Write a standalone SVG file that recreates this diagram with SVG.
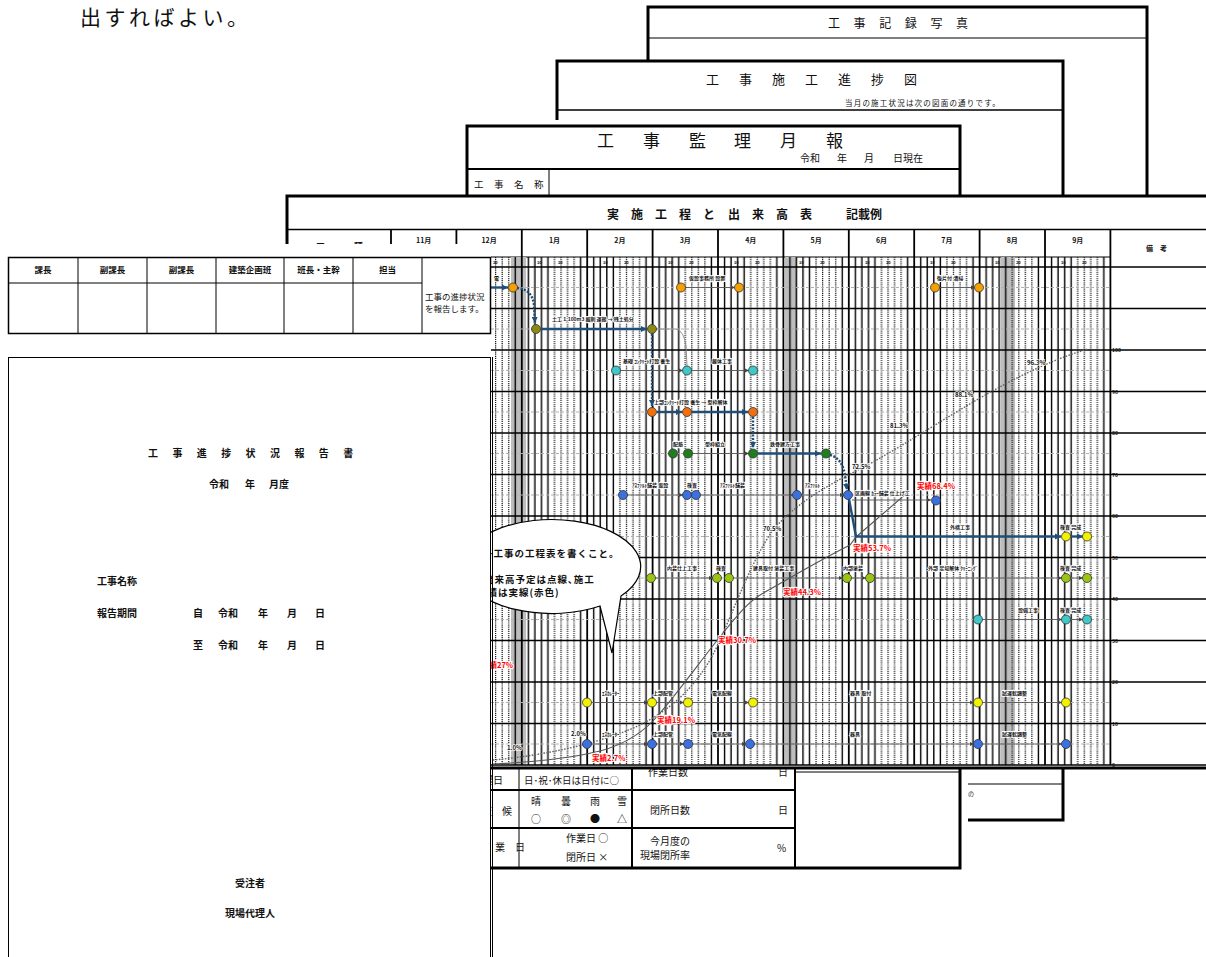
<svg xmlns="http://www.w3.org/2000/svg" width="1206" height="957" viewBox="0 0 1206 957">
<style>
.jp{font-family:"Noto Sans CJK JP","Noto Sans",sans-serif;fill:#111}
.b{font-weight:bold}
.page{fill:#fff;stroke:#000;stroke-width:3}
.ln{stroke:#000;stroke-width:1;fill:none}
.ln2{stroke:#000;stroke-width:2;fill:none}
.mb{stroke:#000;stroke-width:1.8}
.rw{stroke:#000;stroke-width:1.5}
.cen{stroke:#b0b0b0;stroke-width:1.2;stroke-dasharray:3 2;fill:none}
.act{stroke:#555;stroke-width:0.9;fill:none;marker-end:url(#ah)}
.crit{stroke:#1f4e79;stroke-width:2.4;fill:none;marker-end:url(#ahn)}
.critd{stroke:#1f4e79;stroke-width:2.4;fill:none;stroke-dasharray:2 1.5;marker-end:url(#ahn)}
.gry{stroke:#888;stroke-width:0.9;fill:none}
.plan{stroke:#666;stroke-width:1.4;fill:none;stroke-dasharray:1.6 1.4}
.actual{stroke:#555;stroke-width:1.1;fill:none}
.band{fill:#bdbdbd}
.nd{stroke:#333;stroke-width:0.8}
.lb{font-size:5px;font-weight:bold;stroke:#fff;stroke-width:1.6;paint-order:stroke}
.rl{font-size:7.5px;font-weight:bold;fill:#ff0000;stroke:#fff;stroke-width:2;paint-order:stroke}
.pl{font-size:6px;font-weight:bold;stroke:#fff;stroke-width:1.6;paint-order:stroke}
.mo{font-size:7px;font-weight:bold;text-anchor:middle}
.dy{font-size:4px;font-weight:bold}
.ax{font-size:5px;font-weight:bold}
</style>
<defs>
<marker id="ah" viewBox="0 0 6 6" refX="6" refY="3" markerWidth="4.5" markerHeight="4.5" orient="auto"><path d="M0,0 L6,3 L0,6 z" fill="#444"/></marker>
<marker id="ahn" viewBox="0 0 6 6" refX="6" refY="3" markerWidth="2.6" markerHeight="2.6" orient="auto"><path d="M0,0 L6,3 L0,6 z" fill="#1f4e79"/></marker>
<pattern id="mg" patternUnits="userSpaceOnUse" x="391" y="257" width="65.4" height="508">
<path d="M6.54 0V508M13.08 0V508M19.62 0V508M26.16 0V508M58.86 0V508" stroke="#000" stroke-width="1.4"/>
<path d="M32.7 0V508M39.24 0V508M45.78 0V508M52.32 0V508" stroke="#111" stroke-width="1.2" stroke-dasharray="1.2 0.9"/>
</pattern>
</defs>
<rect width="1206" height="957" fill="#fff"/>

<text class="jp" x="80" y="24.5" font-size="21" letter-spacing="3.5" fill="#222">出すればよい。</text>

<!-- 工事記録写真 -->
<g id="doc-kiroku">
<rect class="page" x="648" y="7" width="499" height="700"/>
<line class="ln" x1="648" y1="38" x2="1147" y2="38"/>
<text class="jp" font-size="12" y="28" x="828 853.6 879.2 904.8 930.4 956">工事記録写真</text>
</g>

<!-- 工事施工進捗図 -->
<g id="doc-shinchoku">
<rect class="page" x="557" y="61" width="506" height="759"/>
<text class="jp" font-size="13" y="84" x="706 739 772 805 838 871 904">工事施工進捗図</text>
<text class="jp" font-size="7.5" x="845" y="106" letter-spacing="1.2">当月の施工状況は次の図面の通りです。</text>
<line class="rw" x1="557" y1="110" x2="1063" y2="110"/>
<line class="ln" x1="557" y1="784" x2="1063" y2="784"/>
<text class="jp" font-size="6" x="968" y="796" fill="#555">の</text>
</g>

<!-- 工事監理月報 -->
<g id="doc-geppo">
<rect x="460" y="120" width="508" height="752" fill="#fff"/>
<rect class="page" x="467" y="126" width="493" height="742"/>
<text class="jp" font-size="17" y="147" x="597 643 689 734 780 826">工事監理月報</text>
<text class="jp" font-size="10" y="162"><tspan x="800">令和</tspan><tspan x="837">年</tspan><tspan x="864">月</tspan><tspan x="893">日現在</tspan></text>
<line class="ln2" x1="467" y1="169" x2="960" y2="169"/>
<text class="jp" font-size="9.5" y="188" x="474 494 514 534">工事名称</text>
<line class="ln" x1="549" y1="169" x2="549" y2="196"/>
<line class="ln2" x1="467" y1="790" x2="795" y2="790"/>
<line class="ln2" x1="467" y1="828" x2="795" y2="828"/>
<line class="ln" x1="519" y1="768" x2="519" y2="867"/>
<line class="ln2" x1="632" y1="768" x2="632" y2="867"/>
<line class="ln2" x1="795" y1="768" x2="795" y2="867"/>
<line class="ln" x1="795" y1="772" x2="960" y2="772"/>
<text class="jp" font-size="10" x="483" y="784">曜日</text>
<text class="jp" font-size="10" x="482" y="815">天　候</text>
<text class="jp" font-size="10" x="475" y="851">作　業　日</text>
<text class="jp" font-size="9.5" x="524" y="784">日･祝･休日は日付に○</text>
<text class="jp" font-size="10" y="805" text-anchor="middle"><tspan x="536">晴</tspan><tspan x="566">曇</tspan><tspan x="595">雨</tspan><tspan x="622">雪</tspan></text>
<text class="jp" font-size="10" y="823" text-anchor="middle"><tspan x="536">○</tspan><tspan x="566">◎</tspan><tspan x="595">●</tspan><tspan x="622">△</tspan></text>
<text class="jp" font-size="10" x="566" y="842">作業日 ○</text>
<text class="jp" font-size="10" x="566" y="861">閉所日 ×</text>
<text class="jp" font-size="10" x="648" y="776">作業日数</text>
<text class="jp" font-size="10" x="778" y="776">日</text>
<text class="jp" font-size="10" x="650" y="814">閉所日数</text>
<text class="jp" font-size="10" x="778" y="814">日</text>
<text class="jp" font-size="10" x="650" y="845">今月度の</text>
<text class="jp" font-size="10" x="640" y="859">現場閉所率</text>
<text class="jp" font-size="10" x="777" y="852">%</text>
</g>

<!-- 実施工程と出来高表 -->
<g id="doc-koutei">
<rect class="page" x="287" y="196" width="960" height="572"/>
<text class="jp b" font-size="12" y="219" x="607 631 655 679 703 728 752 776 800">実施工程と出来高表</text>
<text class="jp b" font-size="12" x="846" y="219">記載例</text>
<line class="rw" x1="287" y1="229.5" x2="1206" y2="229.5"/>
<line class="ln" x1="391" y1="257" x2="1110" y2="257"/>
<text class="jp b" font-size="9" x="316" y="250">工</text>
<text class="jp b" font-size="9" x="354" y="250">種</text>
<text class="jp mo" y="243"><tspan x="423.7">11月</tspan><tspan x="489.1">12月</tspan><tspan x="554.5">1月</tspan><tspan x="619.9">2月</tspan><tspan x="685.3">3月</tspan><tspan x="750.7">4月</tspan><tspan x="816.1">5月</tspan><tspan x="881.5">6月</tspan><tspan x="946.9">7月</tspan><tspan x="1012.3">8月</tspan><tspan x="1077.7">9月</tspan></text>
<text class="jp b" font-size="7" x="1146" y="251">備　考</text>
<rect class="band" x="511" y="257" width="15" height="508"/>
<rect class="band" x="785" y="257" width="12" height="508"/>
<rect class="band" x="1001" y="257" width="14" height="508"/>
<rect x="391" y="257" width="719.4" height="508" fill="url(#mg)"/>
<path class="mb" d="M391 229V765M456.4 229V765M521.8 229V765M587.2 229V765M652.6 229V765M718 229V765M783.4 229V765M848.8 229V765M914.2 229V765M979.6 229V765M1045 229V765M1110.4 229V765"/>
<text class="jp dy" y="264"><tspan x="472">10</tspan><tspan x="493">20</tspan><tspan x="537">10</tspan><tspan x="558">20</tspan><tspan x="603">10</tspan><tspan x="624">20</tspan><tspan x="668">10</tspan><tspan x="689">20</tspan><tspan x="734">10</tspan><tspan x="755">20</tspan><tspan x="799">10</tspan><tspan x="820">20</tspan><tspan x="865">10</tspan><tspan x="886">20</tspan><tspan x="930">10</tspan><tspan x="951">20</tspan><tspan x="995">10</tspan><tspan x="1016">20</tspan><tspan x="1061">10</tspan><tspan x="1082">20</tspan></text>
<path class="rw" d="M287 267H1206M287 308.5H1206M287 350H1206M287 391.5H1206M287 433H1206M287 474.5H1206M287 516H1206M287 557.5H1206M287 599H1206M287 640.5H1206M287 682H1206M287 723.5H1206M287 765H1206"/>
<text class="jp ax" x="1112"><tspan y="352">100</tspan><tspan y="393.5" x="1112">90</tspan><tspan y="435" x="1112">80</tspan><tspan y="476.5" x="1112">70</tspan><tspan y="518" x="1112">60</tspan><tspan y="559.5" x="1112">50</tspan><tspan y="601" x="1112">40</tspan><tspan y="642.5" x="1112">30</tspan><tspan y="684" x="1112">20</tspan><tspan y="725.5" x="1112">10</tspan><tspan y="767" x="1112">0</tspan></text>
</g>

<!-- 行の中心線 -->
<g id="center-lines">
<path class="cen" d="M491 287.5H1110M491 329H1110M491 370.5H1110M491 412H1110M491 453.5H1110M491 495H1110M491 536.5H1110M491 578H1110M491 619.5H1110M491 702.5H1110M491 744H1110"/>
</g>

<!-- 出来高曲線 -->
<g id="s-curves">
<path class="plan" d="M493 760 C540 756 600 744 640 725 C680 705 705 675 720 640 C738 600 752 560 773 530 C790 510 815 492 850 474 C920 440 1000 375 1088 349"/>
<path class="actual" d="M493 764 C540 762 575 757 600 751 C630 743 648 728 660 713 C680 690 705 655 723 633 C740 612 750 600 765 592 C790 578 820 560 850 545 L856 537 L907 493"/>
</g>

<!-- 作業の接続線 -->
<g id="connectors">
<path class="crit" d="M491 287.5H508"/>
<path class="critd" d="M517 288 Q532 289 534 305 L535 323"/>
<path class="crit" d="M541 329H647"/>
<path class="gry" d="M656 329 H676 Q684 331 686 346 L687 366"/>
<path class="critd" d="M652 334V406"/>
<path class="act" d="M685 287.5H735"/>
<path class="act" d="M939 287.5H975"/>
<path class="act" d="M620 370.5H683"/>
<path class="act" d="M691 370.5H749"/>
<path class="crit" d="M657 412H682"/>
<path class="crit" d="M692 412H748"/>
<path class="critd" d="M753 417V448"/>
<path class="act" d="M692 453.5H749"/>
<path class="crit" d="M758 453.5H821"/>
<path class="critd" d="M830 455 Q842 458 845 475 L847 490"/>
<path class="act" d="M627 495H683"/>
<path class="act" d="M700 495H793"/>
<path class="act" d="M801 495H844"/>
<path class="act" d="M852 500H931"/>
<path class="crit" d="M849 499 L856 536.5 H1061"/>
<path class="crit" d="M1071 536.5H1083"/>
<path class="act" d="M655 578H713"/>
<path class="act" d="M733 578H843"/>
<path class="act" d="M851 578H866"/>
<path class="act" d="M874 578H1062"/>
<path class="act" d="M1070 578H1083"/>
<path class="act" d="M982 619.5H1062"/>
<path class="act" d="M1070 619.5H1083"/>
<path class="act" d="M591 702.5H648"/>
<path class="act" d="M656 702.5H684"/>
<path class="act" d="M692 702.5H749"/>
<path class="act" d="M757 702.5H974"/>
<path class="act" d="M982 702.5H1062"/>
<path class="act" d="M591 744H648"/>
<path class="act" d="M656 744H684"/>
<path class="act" d="M692 744H746"/>
<path class="act" d="M754 744H974"/>
<path class="act" d="M982 744H1062"/>
</g>

<!-- 作業ノード -->
<g id="node-row0" fill="#f5a000"><circle class="nd" cx="513" cy="287.5" r="4.5"/><circle class="nd" cx="681" cy="287.5" r="4.5"/><circle class="nd" cx="739" cy="287.5" r="4.5"/><circle class="nd" cx="935" cy="287.5" r="4.5"/><circle class="nd" cx="979" cy="287.5" r="4.5"/></g>
<g id="node-row1" fill="#8a8a12"><circle class="nd" cx="536" cy="329" r="4.5"/><circle class="nd" cx="652" cy="329" r="4.5"/></g>
<g id="node-row2" fill="#40c8c8"><circle class="nd" cx="616" cy="370.5" r="4.5"/><circle class="nd" cx="687" cy="370.5" r="4.5"/><circle class="nd" cx="753" cy="370.5" r="4.5"/></g>
<g id="node-row3" fill="#f07010"><circle class="nd" cx="652" cy="412" r="4.5"/><circle class="nd" cx="687" cy="412" r="4.5"/><circle class="nd" cx="753" cy="412" r="4.5"/></g>
<g id="node-row4" fill="#1e7e1e"><circle class="nd" cx="673" cy="453.5" r="4.5"/><circle class="nd" cx="688" cy="453.5" r="4.5"/><circle class="nd" cx="753" cy="453.5" r="4.5"/><circle class="nd" cx="826" cy="453.5" r="4.5"/></g>
<g id="node-row5" fill="#3a70e0"><circle class="nd" cx="623" cy="495" r="4.5"/><circle class="nd" cx="687" cy="495" r="4.5"/><circle class="nd" cx="696" cy="495" r="4.5"/><circle class="nd" cx="797" cy="495" r="4.5"/><circle class="nd" cx="848" cy="495" r="4.5"/><circle class="nd" cx="936" cy="500.5" r="4.5"/></g>
<g id="node-row6" fill="#f2f200"><circle class="nd" cx="1066" cy="536.5" r="4.5"/><circle class="nd" cx="1087" cy="536.5" r="4.5"/></g>
<g id="node-row7" fill="#9cc414"><circle class="nd" cx="651" cy="578" r="4.5"/><circle class="nd" cx="717" cy="578" r="4.5"/><circle class="nd" cx="729" cy="578" r="4.5"/><circle class="nd" cx="847" cy="578" r="4.5"/><circle class="nd" cx="870" cy="578" r="4.5"/><circle class="nd" cx="1066" cy="578" r="4.5"/><circle class="nd" cx="1087" cy="578" r="4.5"/></g>
<g id="node-row8" fill="#40c8c8"><circle class="nd" cx="978" cy="619.5" r="4.5"/><circle class="nd" cx="1066" cy="619.5" r="4.5"/><circle class="nd" cx="1087" cy="619.5" r="4.5"/></g>
<g id="node-row10" fill="#f2f200"><circle class="nd" cx="587" cy="702.5" r="4.5"/><circle class="nd" cx="652" cy="702.5" r="4.5"/><circle class="nd" cx="688" cy="702.5" r="4.5"/><circle class="nd" cx="753" cy="702.5" r="4.5"/><circle class="nd" cx="978" cy="702.5" r="4.5"/><circle class="nd" cx="1066" cy="702.5" r="4.5"/></g>
<g id="node-row11" fill="#3a70e0"><circle class="nd" cx="587" cy="744" r="4.5"/><circle class="nd" cx="652" cy="744" r="4.5"/><circle class="nd" cx="688" cy="744" r="4.5"/><circle class="nd" cx="750" cy="744" r="4.5"/><circle class="nd" cx="978" cy="744" r="4.5"/><circle class="nd" cx="1066" cy="744" r="4.5"/></g>

<!-- 作業ラベル -->
<g id="node-labels" class="jp">
<text class="lb" x="494" y="280">電</text>
<text class="lb" x="689" y="280">仮設事務所 設置</text>
<text class="lb" x="937" y="280">後片付 清掃</text>
<text class="lb" x="552" y="321">土工 1,100m3 掘削 運搬 → 残土処分</text>
<text class="lb" x="623" y="363">基礎 ｺﾝｸﾘｰﾄ打設 養生</text>
<text class="lb" x="712" y="363">躯体工事</text>
<text class="lb" x="654" y="404">上部ｺﾝｸﾘｰﾄ打設 養生 → 型枠解体</text>
<text class="lb" x="673" y="446">配筋</text>
<text class="lb" x="705" y="446">型枠組立</text>
<text class="lb" x="770" y="446">鉄骨建方工事</text>
<text class="lb" x="632" y="487">ｱｽﾌｧﾙﾄ舗装 仮設</text>
<text class="lb" x="687" y="487">検査</text>
<text class="lb" x="720" y="487">ｱｽﾌｧﾙﾄ舗装</text>
<text class="lb" x="805" y="487">ｱｽﾌｧﾙﾄ</text>
<text class="lb" x="855" y="495">区画線 ｶﾗｰ舗装 仕上げ工</text>
<text class="lb" x="950" y="529">外構工事</text>
<text class="lb" x="1060" y="529">検査 完成</text>
<text class="lb" x="667" y="570">内装仕上工事</text>
<text class="lb" x="716" y="570">検査</text>
<text class="lb" x="753" y="570">建具取付 塗装工事</text>
<text class="lb" x="843" y="570">内部塗装</text>
<text class="lb" x="928" y="570">外部 足場解体 ｸﾘｰﾆﾝｸﾞ</text>
<text class="lb" x="1060" y="570">検査 完成</text>
<text class="lb" x="1018" y="612">設備工事</text>
<text class="lb" x="1060" y="612">検査 完成</text>
<text class="lb" x="602" y="695">ｴｽｶﾚｰﾀｰ</text>
<text class="lb" x="653" y="695">上部配管</text>
<text class="lb" x="712" y="695">電気配線</text>
<text class="lb" x="850" y="695">器具 取付</text>
<text class="lb" x="1002" y="695">試運転調整</text>
<text class="lb" x="602" y="736">ｴｽｶﾚｰﾀｰ</text>
<text class="lb" x="653" y="736">上部配管</text>
<text class="lb" x="712" y="736">電気配線</text>
<text class="lb" x="850" y="736">器具</text>
<text class="lb" x="1002" y="736">試運転調整</text>
</g>

<!-- 出来高ラベル -->
<g id="progress-labels" class="jp">
<text class="pl" x="507" y="750">1.0%</text>
<text class="pl" x="571" y="736">2.0%</text>
<text class="pl" x="763" y="531">70.5%</text>
<text class="pl" x="852" y="469">72.5%</text>
<text class="pl" x="890" y="428">81.3%</text>
<text class="pl" x="955" y="397">88.1%</text>
<text class="pl" x="1027" y="365">96.3%</text>
<text class="rl" x="592" y="761">実績2.7%</text>
<text class="rl" x="657" y="723">実績19.1%</text>
<text class="rl" x="718" y="643">実績30.7%</text>
<text class="rl" x="783" y="595">実績44.3%</text>
<text class="rl" x="853" y="551">実績53.7%</text>
<text class="rl" x="917" y="489">実績68.4%</text>
<text class="rl" x="482" y="668">実績27%</text>
</g>

<!-- 吹き出し -->
<g id="callout">
<path d="M600 606 L612 653 L621 596 A89 47 0 1 0 600 606 Z" fill="#fff" stroke="#000" stroke-width="1.2"/>
<text class="jp b" font-size="9.5" letter-spacing="1" x="483" y="557">各工事の工程表を書くこと。</text>
<text class="jp b" font-size="9.5" letter-spacing="1" x="484" y="583">出来高予定は点線､施工</text>
<text class="jp b" font-size="9.5" letter-spacing="1" x="477" y="596">実績は実線(赤色)</text>
</g>

<!-- 工事進捗状況報告書 -->
<g id="doc-houkoku">
<rect x="0" y="244" width="491" height="713" fill="#fff"/>
<g id="approval-table">
<rect x="8.5" y="257.5" width="482" height="76" fill="#fff" stroke="#000" stroke-width="1.5"/>
<line class="ln" x1="8.5" y1="283" x2="422" y2="283"/>
<path class="ln" d="M78 257.5V333.5M147 257.5V333.5M216 257.5V333.5M284 257.5V333.5M353 257.5V333.5M422 257.5V333.5"/>
<text class="jp b" font-size="8.5" y="273" text-anchor="middle"><tspan x="43">課長</tspan><tspan x="112.5">副課長</tspan><tspan x="181.5">副課長</tspan><tspan x="250">建築企画班</tspan><tspan x="318.5">班長・主幹</tspan><tspan x="387.5">担当</tspan></text>
<text class="jp" font-size="8.5" x="425" y="300">工事の進捗状況</text>
<text class="jp" font-size="8.5" x="425" y="312">を報告します。</text>
</g>
<rect x="8.5" y="357.5" width="482" height="620" fill="none" stroke="#000" stroke-width="1"/>
<line class="ln" x1="492.5" y1="357" x2="492.5" y2="957"/>
<g class="jp b" font-size="10">
<text y="457" x="148 172.4 196.8 221.2 245.6 270 294.4 318.8 343.2">工事進捗状況報告書</text>
<text y="488"><tspan x="209">令和</tspan><tspan x="245">年</tspan><tspan x="269">月度</tspan></text>
<text x="97" y="585">工事名称</text>
<text y="617"><tspan x="97">報告期間</tspan><tspan x="193">自</tspan><tspan x="218">令和</tspan><tspan x="258">年</tspan><tspan x="287">月</tspan><tspan x="315">日</tspan></text>
<text y="649"><tspan x="193">至</tspan><tspan x="218">令和</tspan><tspan x="258">年</tspan><tspan x="287">月</tspan><tspan x="315">日</tspan></text>
<text x="250" y="887" text-anchor="middle">受注者</text>
<text x="250" y="917" text-anchor="middle">現場代理人</text>
</g>
</g>
</svg>
